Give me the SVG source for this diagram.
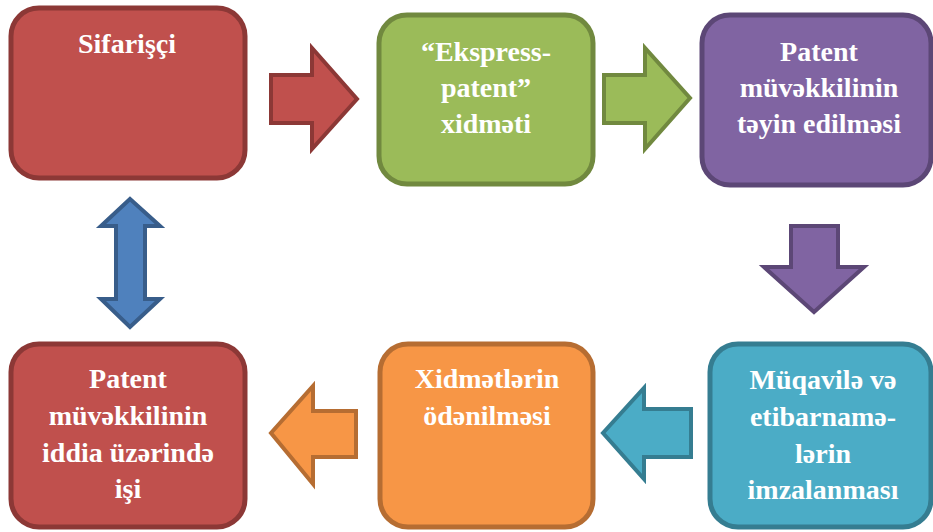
<svg xmlns="http://www.w3.org/2000/svg" width="933" height="532" viewBox="0 0 933 532">
<style>
.box{stroke-width:5}
.arr{stroke-width:4;stroke-linejoin:miter}
.red{fill:#c0504d;stroke:#8c3836}
.green{fill:#9bbb59;stroke:#71893f}
.purple{fill:#8064a2;stroke:#5c4776}
.teal{fill:#4bacc6;stroke:#357d91}
.orange{fill:#f79646;stroke:#b66d32}
.blue{fill:#4f81bd;stroke:#385d8a}
text{font-family:"Liberation Serif","Times New Roman",serif;font-weight:bold;font-size:28px;fill:#ffffff;text-anchor:middle}
</style>
<rect width="933" height="532" fill="#ffffff"/>
<g id="connectors">
<polygon class="arr red" points="271,75 312,75 312,48 357,99 312,149 312,123 271,123"/>
<polygon class="arr green" points="604,75 645,75 645,48 690,98 645,149 645,123 604,123"/>
<polygon class="arr purple" points="791,226 838,226 838,267 864,267 814,312 764,267 791,267"/>
<polygon class="arr teal" points="691,409 644,409 644,388 603,433 644,479 644,457 691,457"/>
<polygon class="arr orange" points="356,411 313,411 313,386 271,433 313,484 313,457 356,457"/>
<polygon class="arr blue" points="130,199 160,226 145,226 145,299 160,299 130,327 101,299 116,299 116,226 101,226"/>
</g>
<g id="n1">
<rect class="box red" x="11" y="8" width="234" height="170" rx="28"/>
<text x="127" y="53">Sifarişçi</text>
</g>
<g id="n2">
<rect class="box green" x="379" y="15" width="214" height="169" rx="28"/>
<text x="486" y="61">“Ekspress-</text>
<text x="486" y="97">patent”</text>
<text x="486" y="133">xidməti</text>
</g>
<g id="n3">
<rect class="box purple" x="702" y="15" width="229" height="170" rx="28"/>
<text x="819" y="61">Patent</text>
<text x="819" y="97">müvəkkilinin</text>
<text x="819" y="133">təyin edilməsi</text>
</g>
<g id="n4">
<rect class="box teal" x="710" y="344" width="221" height="183" rx="28"/>
<text x="823" y="389">Müqavilə və</text>
<text x="823" y="426">etibarnamə-</text>
<text x="823" y="463">lərin</text>
<text x="823" y="499">imzalanması</text>
</g>
<g id="n5">
<rect class="box orange" x="380" y="344" width="213" height="183" rx="28"/>
<text x="487" y="388">Xidmətlərin</text>
<text x="487" y="425">ödənilməsi</text>
</g>
<g id="n6">
<rect class="box red" x="11" y="344" width="234" height="183" rx="28"/>
<text x="128" y="388">Patent</text>
<text x="128" y="425">müvəkkilinin</text>
<text x="128" y="462">iddia üzərində</text>
<text x="128" y="498">işi</text>
</g>
</svg>
